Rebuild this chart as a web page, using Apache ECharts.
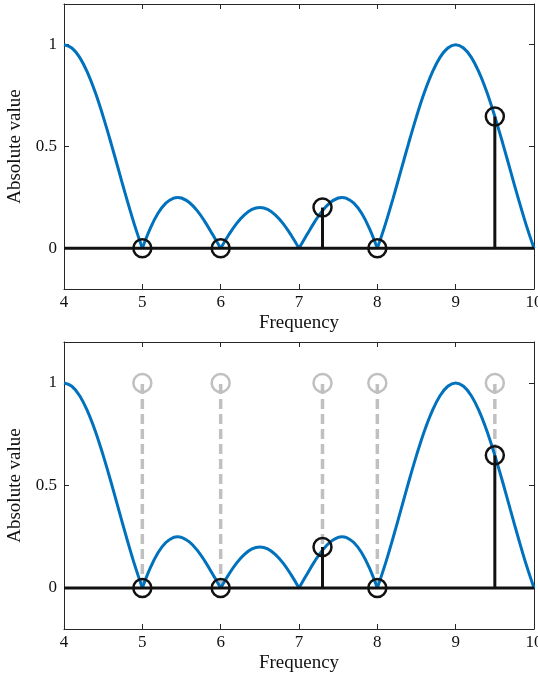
<!DOCTYPE html>
<html>
<head>
<meta charset="utf-8">
<script src="https://cdn.jsdelivr.net/npm/echarts@6/dist/echarts.min.js"></script>
<style>html,body{margin:0;padding:0;background:#fff}#c{width:538px;height:677px}</style>
</head>
<body>
<div id="c"></div>
<script>
// ---- data ----
const freq = [4.0,4.1,4.2,4.3,4.4,4.5,4.6,4.7,4.8,4.9,5.0,
  5.1,5.2,5.3,5.4,5.45,5.5,5.6,5.7,5.8,5.9,6.0,
  6.1,6.2,6.3,6.4,6.5,6.6,6.7,6.8,6.9,7.0,
  7.1,7.2,7.3,7.4,7.5,7.55,7.6,7.7,7.8,7.9,8.0,
  8.1,8.2,8.3,8.4,8.5,8.6,8.7,8.8,8.9,9.0,
  9.1,9.2,9.3,9.4,9.5,9.6,9.7,9.8,9.9,10.0];
const absValue = [1.000,0.984,0.938,0.863,0.765,0.647,0.517,0.380,0.244,0.115,0,
  0.097,0.172,0.222,0.247,0.250,0.247,0.225,0.185,0.130,0.066,0,
  0.064,0.120,0.163,0.191,0.200,0.191,0.163,0.120,0.064,0,
  0.066,0.130,0.185,0.225,0.247,0.250,0.247,0.222,0.172,0.097,0,
  0.115,0.244,0.380,0.517,0.647,0.765,0.863,0.938,0.984,1.000,
  0.984,0.938,0.863,0.765,0.647,0.517,0.380,0.244,0.115,0];
const sampleFreq = [5, 6, 7.3, 8, 9.5];
const sampleValue = [0, 0, 0.2, 0, 0.647];
const referenceValue = [1, 1, 1, 1, 1];
const baselineValue = 0;
const yTicks = [0, 0.5, 1];

// ---- build ----
const FONT = '"Liberation Serif", "DejaVu Serif", serif';
const AX = '#262626';
const BLUE = '#0072BD';
const BLACK = '#111111';
const GRAY = '#c0c0c0';

// split curve into lobes at zeros (keeps the sharp cusps)
const lobes = [];
let cur = [];
for (let i = 0; i < freq.length; i++) {
  cur.push([freq[i], absValue[i]]);
  if (absValue[i] === 0 && i > 0) { lobes.push(cur); cur = [[freq[i], absValue[i]]]; }
}
if (cur.length > 1) lobes.push(cur);

const grids = [
  {left: 64, right: 4, top: 4, height: 285, outerBoundsMode: 'none', containLabel: false},
  {left: 64, right: 4, top: 342, height: 287, outerBoundsMode: 'none', containLabel: false}
];

const xAxes = [], yAxes = [], series = [];
grids.forEach((g, gi) => {
  xAxes.push({
    gridIndex: gi, type: 'value', min: 4, max: 10, interval: 1, position: 'bottom',
    name: 'Frequency', nameLocation: 'middle', nameGap: 25,
    nameTextStyle: {fontFamily: FONT, fontSize: 19, color: '#111'},
    axisLine: {show: true, onZero: false, lineStyle: {color: AX, width: 1}},
    axisTick: {show: true, inside: true, length: 5, lineStyle: {color: AX}},
    axisLabel: {fontFamily: FONT, fontSize: 17, color: '#111', margin: 5},
    splitLine: {show: false}
  });
  xAxes.push({
    gridIndex: gi, type: 'value', min: 4, max: 10, interval: 1, position: 'top',
    axisLine: {show: true, onZero: false, lineStyle: {color: AX, width: 1}},
    axisTick: {show: true, inside: true, length: 5, lineStyle: {color: AX}},
    axisLabel: {show: false}, splitLine: {show: false}
  });
  yAxes.push({
    gridIndex: gi, type: 'value', min: -0.2, max: 1.2, position: 'left',
    name: 'Absolute value', nameLocation: 'middle', nameGap: 32,
    nameTextStyle: {fontFamily: FONT, fontSize: 19, color: '#111'},
    axisLine: {show: true, onZero: false, lineStyle: {color: AX, width: 1}},
    axisTick: {show: true, inside: true, length: 5, lineStyle: {color: AX}, customValues: yTicks},
    axisLabel: {fontFamily: FONT, fontSize: 17, color: '#111', margin: 7, customValues: yTicks,
      formatter: v => String(v)},
    splitLine: {show: false}
  });
  yAxes.push({
    gridIndex: gi, type: 'value', min: -0.2, max: 1.2, position: 'right',
    axisLine: {show: true, onZero: false, lineStyle: {color: AX, width: 1}},
    axisTick: {show: true, inside: true, length: 5, lineStyle: {color: AX}, customValues: yTicks},
    axisLabel: {show: false}, splitLine: {show: false}
  });
  const xi = gi * 2, yi = gi * 2;

  if (gi === 1) {
    // gray dashed reference stems
    series.push({
      type: 'custom', xAxisIndex: xi, yAxisIndex: yi, z: 1, silent: true,
      data: sampleFreq.map((f, k) => [f, sampleValue[k], referenceValue[k]]),
      renderItem: (params, api) => {
        const pLow = api.coord([api.value(0), api.value(1)]);
        const pTop = api.coord([api.value(0), api.value(2)]);
        return {type: 'group', children: [
          {type: 'line', shape: {x1: pTop[0], y1: pTop[1] + 1, x2: pLow[0], y2: pLow[1]},
            style: {stroke: GRAY, lineWidth: 3.5, lineDash: [10, 5]}},
          {type: 'circle', shape: {cx: pTop[0], cy: pTop[1], r: 9},
            style: {fill: 'none', stroke: GRAY, lineWidth: 2.5}}
        ]};
      }
    });
  }

  lobes.forEach(seg => {
    series.push({
      type: 'line', xAxisIndex: xi, yAxisIndex: yi, z: 2, data: seg, smooth: 0.4,
      showSymbol: false, symbol: 'none', silent: true,
      lineStyle: {color: BLUE, width: 3}
    });
  });

  // baseline
  series.push({
    type: 'line', xAxisIndex: xi, yAxisIndex: yi, z: 3, silent: true,
    data: [[4, baselineValue], [10, baselineValue]], symbol: 'none',
    lineStyle: {color: BLACK, width: 3}
  });

  // black sample stems
  series.push({
    type: 'custom', xAxisIndex: xi, yAxisIndex: yi, z: 4, silent: true,
    data: sampleFreq.map((f, k) => [f, sampleValue[k]]),
    renderItem: (params, api) => {
      const p0 = api.coord([api.value(0), baselineValue]);
      const p1 = api.coord([api.value(0), api.value(1)]);
      return {type: 'group', children: [
        {type: 'line', shape: {x1: p0[0], y1: p0[1], x2: p1[0], y2: p1[1]},
          style: {stroke: BLACK, lineWidth: 3}},
        {type: 'circle', shape: {cx: p1[0], cy: p1[1], r: 9},
          style: {fill: 'none', stroke: BLACK, lineWidth: 2.5}}
      ]};
    }
  });
});

const chart = echarts.init(document.getElementById('c'), null, {renderer: 'canvas'});
chart.setOption({
  animation: false,
  backgroundColor: '#fff',
  grid: grids,
  xAxis: xAxes,
  yAxis: yAxes,
  series: series
});
</script>
</body>
</html>
